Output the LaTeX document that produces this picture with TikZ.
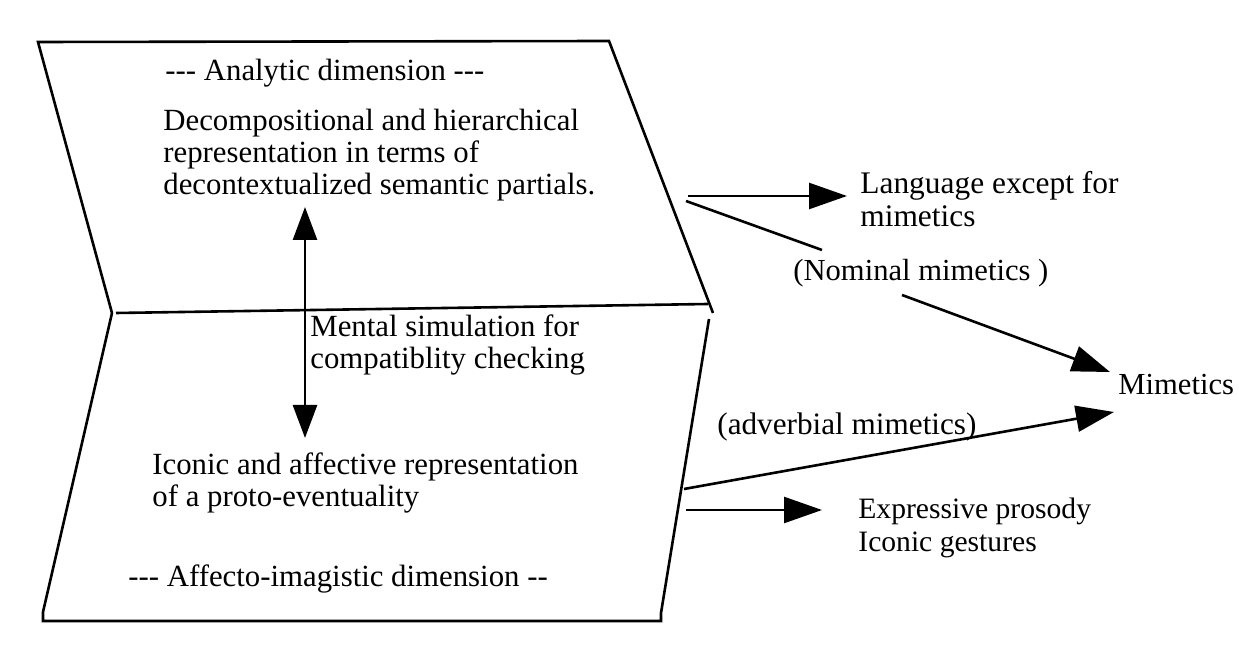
\documentclass[tikz,border=0pt]{standalone}
\usepackage{fontspec}
\setmainfont{Liberation Serif}
\usetikzlibrary{arrows.meta}
\begin{document}
\begin{tikzpicture}[x=0.5pt,y=-0.5pt,
  frame/.style={line width=1.3pt, line join=miter},
  conn/.style={line width=1.3pt},
  arr/.style={conn, -{Triangle[length=19pt,width=13pt]}},
  darr/.style={conn, {Triangle[length=16.5pt,width=12pt]}-{Triangle[length=16.5pt,width=12pt]}},
  txt/.style={inner sep=0pt, anchor=west, align=left, font=\fontsize{15.4}{16.2}\selectfont},
  rtxt/.style={txt, font=\fontsize{15.3}{16.5}\selectfont}]
\useasboundingbox (0,0) rectangle (1239,646);
% upper plane
\coordinate (ua) at (38,42);
\coordinate (ub) at (609,41);
\coordinate (uc) at (713,313);
\coordinate (ud) at (112,313);
\draw[frame] (ud) -- (ua) -- (ub) -- (uc);
\coordinate (ml) at (116,313);
\coordinate (mr) at (708,304);
\draw[frame] (ml) -- (mr);
% lower plane
\coordinate (la) at (43,612);
\coordinate (lb) at (43,621);
\coordinate (lc) at (661,621);
\coordinate (ld) at (661,613);
\coordinate (le) at (709,319);
\draw[frame] (ud) -- (la) -- (lb) -- (lc) -- (ld) -- (le);
% texts
\node[txt] (analytic) at (165,73) {-{}-{}- Analytic dimension -{}-{}-};
\node[txt] (decomp) at (163,155) {Decompositional and hierarchical\\representation in terms of\\decontextualized semantic partials.};
\node[txt] (mental) at (310,345) {Mental simulation for\\compatiblity checking};
\node[txt] (iconic) at (152,483) {Iconic and affective representation\\of a proto-eventuality};
\node[txt] (affecto) at (128,579) {-{}-{}- Affecto-imagistic dimension -{}-};
\node[rtxt, font=\fontsize{15.7}{16.2}\selectfont] (lang) at (860,199) {Language except for\\mimetics};
\node[rtxt] (nominal) at (793,273) {(Nominal mimetics )};
\node[rtxt] (mim) at (1118,385) {Mimetics};
\node[rtxt, font=\fontsize{15.6}{16.5}\selectfont] (adverb) at (717,427) {(adverbial mimetics)};
\node[rtxt, font=\fontsize{14.8}{16.5}\selectfont] (expr) at (858,528) {Expressive prosody\\Iconic gestures};
% vertical double arrow
\coordinate (vt) at (305,207);
\coordinate (vb) at (305,438);
\draw[darr] (vb) -- (vt);
% right connectors
\coordinate (o1) at (688,196);
\coordinate (o2) at (686,201);
\coordinate (nomin) at (822,250);
\coordinate (nomout) at (902,295);
\coordinate (mimup) at (1110,372);
\coordinate (mimdn) at (1114,412);
\coordinate (o3) at (684,489);
\coordinate (o4) at (686,510);
\draw[arr] (o1) -- ([xshift=-6.5pt]lang.west |- o1);
\draw[conn] (o2) -- (nomin);
\draw[arr] (nomout) -- (mimup);
\draw[arr] (o3) -- (mimdn);
\draw[arr] (o4) -- ([xshift=-18pt]expr.west |- o4);
\end{tikzpicture}
\end{document}
